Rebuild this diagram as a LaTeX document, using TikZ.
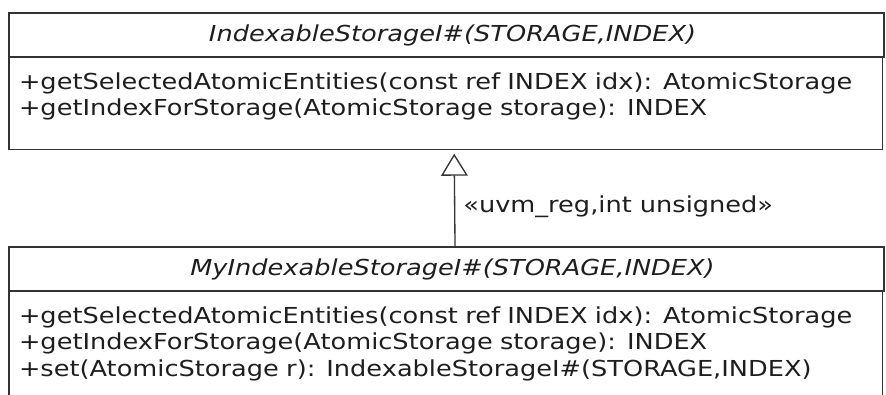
\documentclass[tikz,border=0pt]{standalone}
\usepackage{fontspec}
\setmainfont[FakeStretch=1.165]{DejaVu Sans}
\usepackage{tikz}
\usetikzlibrary{arrows.meta,positioning,calc}

\definecolor{umlline}{HTML}{333333}
\definecolor{umltext}{HTML}{1E1E1E}

\newcommand{\bodygap}[1]{\rule[-#1]{0pt}{#1}}

\begin{document}
\begin{tikzpicture}[x=0.75pt,y=-0.75pt]

\tikzset{
  classhead/.style={draw=umlline, line width=1pt, text=umltext,
                    font=\fontsize{16.5}{20}\selectfont\itshape,
                    minimum width=656.25pt, minimum height=33pt,
                    inner sep=0pt, outer sep=0pt, anchor=north west},
  classbody/.style={draw=umlline, line width=1pt, text=umltext,
                    font=\fontsize{16.5}{20}\selectfont, align=left,
                    text width=640pt, inner xsep=7.5pt, inner ysep=11.5pt,
                    outer sep=0pt, anchor=north west},
  realize/.style={umlline, line width=1pt,
                  -{Triangle[open, length=16.5pt, width=20pt, line width=1pt]}},
  bindlabel/.style={font=\fontsize{16.5}{20}\selectfont, text=umltext,
                    inner sep=6pt}
}

\useasboundingbox (0,0) rectangle (886,394);

% Interface
\node[classhead] (hdrA) at (9,13) {\hspace*{9pt}IndexableStorageI\#(STORAGE,INDEX)};
\node[classbody] (bodyA) at (hdrA.south west)
  {+getSelectedAtomicEntities(const ref INDEX idx): AtomicStorage\\
   +getIndexForStorage(AtomicStorage storage): INDEX\bodygap{14pt}};

% Implementation
\node[classhead] (hdrB) at (9,247) {\hspace*{9pt}MyIndexableStorageI\#(STORAGE,INDEX)};
\node[classbody] (bodyB) at (hdrB.south west)
  {+getSelectedAtomicEntities(const ref INDEX idx): AtomicStorage\\
   +getIndexForStorage(AtomicStorage storage): INDEX\\
   +set(AtomicStorage r): IndexableStorageI\#(STORAGE,INDEX)\bodygap{30pt}};

% Realization
\draw[realize] ([xshift=6.4pt]hdrB.north) --
  node[bindlabel, right, pos=0.43] (bind) {«uvm\_reg,int unsigned»}
  ([xshift=6.4pt, yshift=-3pt]bodyA.south);

\end{tikzpicture}
\end{document}
